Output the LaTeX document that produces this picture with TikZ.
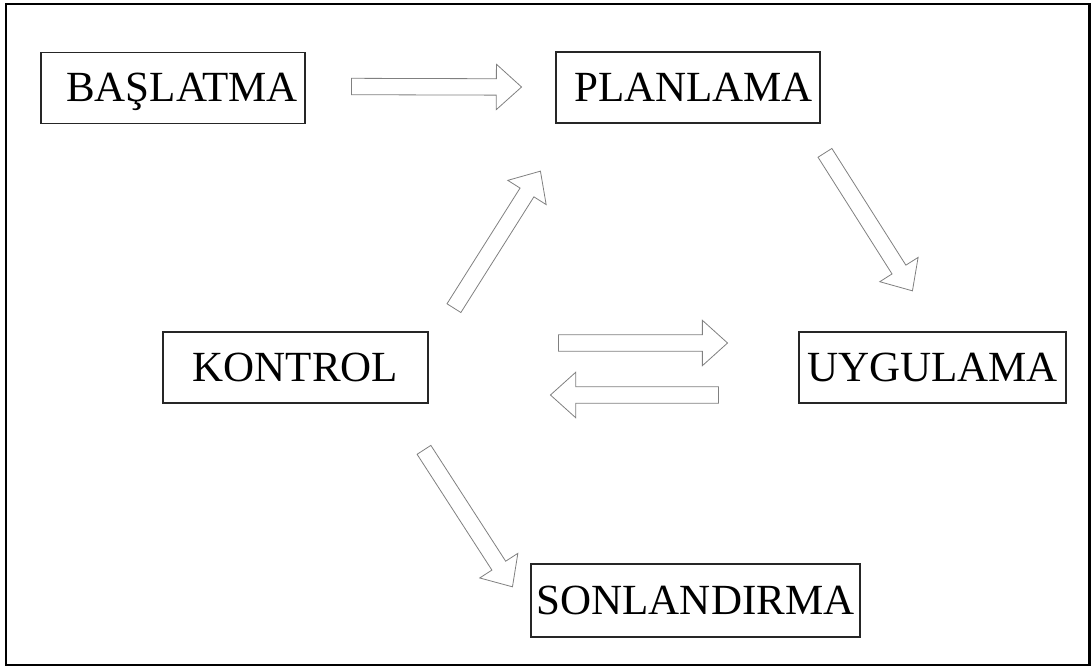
\documentclass[tikz,border=0pt]{standalone}
\usepackage{fontspec}
\setmainfont{Liberation Serif}
\usetikzlibrary{shapes.arrows,calc}

\tikzset{
  phase/.style={draw=black!85, line width=1.3pt, fill=white, inner sep=0pt,
    minimum height=71pt, text height=27.5pt, text depth=0pt,
    font=\fontsize{43}{50}\selectfont},
  blockarrow/.style={single arrow, draw=black!50, line width=0.8pt, fill=white,
    inner xsep=0pt, inner ysep=7.8pt, outer sep=0pt,
    single arrow head extend=14.5pt, single arrow tip angle=84},
  frame/.style={draw=black, line width=2.6pt}
}

% hollow block arrow between two named coordinates
\newcommand\blockarrow[3]{%
  \path let \p1=($(#3)-(#2)$), \n1={atan2(\y1,\x1)}, \n2={veclen(\x1,\y1)} in
    node[blockarrow, rotate=\n1, minimum height=\n2] (#1) at ($(#2)!0.5!(#3)$) {};}

\begin{document}
\begin{tikzpicture}[x=1pt, y=-1pt]
  \useasboundingbox (0,0) rectangle (1092,668);
  \draw[frame] (6,4) rectangle (1089.5,665);

  % phases
  \node[phase, minimum width=264pt, text width=250pt, align=right] (bas) at (173,88) {BAŞLATMA};
  \node[phase, minimum width=264pt, text width=250pt, align=right] (pla) at (688,87.5) {PLANLAMA};
  \node[phase, minimum width=265pt] (kon) at (295.5,367.5) {KONTROL};
  \node[phase, minimum width=267pt] (uyg) at (932.5,367.5) {UYGULAMA};
  \node[phase, minimum width=329pt, minimum height=73pt] (son) at (695.5,600.5) {SONLANDIRMA};

  % arrow end points
  \coordinate (bpA) at (347,86.5);   \coordinate (bpB) at (517,87);
  \coordinate (puA) at (822.5,149);  \coordinate (puB) at (910,287);
  \coordinate (kpA) at (451.5,312);  \coordinate (kpB) at (538,175);
  \coordinate (kuA) at (554,343);    \coordinate (kuB) at (723,343);
  \coordinate (ukA) at (723,395);    \coordinate (ukB) at (555,395);
  \coordinate (ksA) at (421.5,446);  \coordinate (ksB) at (510,583);

  % flow between phases
  \blockarrow{bp}{bpA}{bpB}
  \blockarrow{pu}{puA}{puB}
  \blockarrow{kp}{kpA}{kpB}
  \blockarrow{ku}{kuA}{kuB}
  \blockarrow{uk}{ukA}{ukB}
  \blockarrow{ks}{ksA}{ksB}
\end{tikzpicture}
\end{document}
